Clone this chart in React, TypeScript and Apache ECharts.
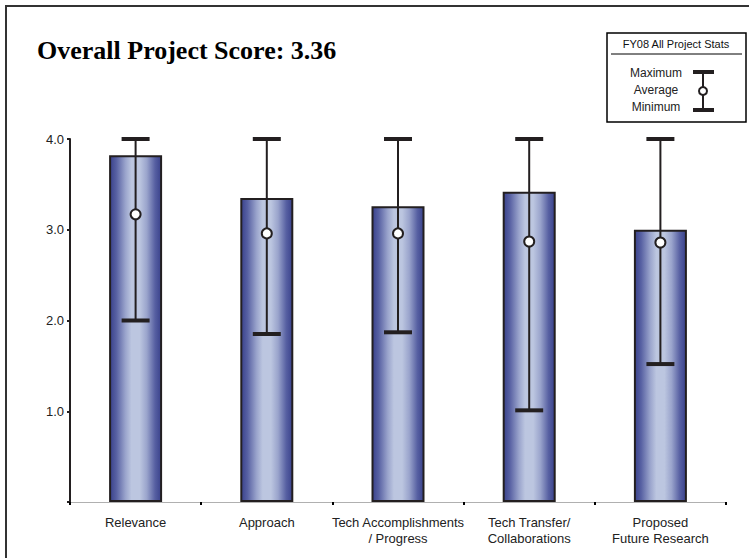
import React, { useEffect, useRef } from "react";
import * as echarts from "echarts";

const categories = [
  "Relevance",
  "Approach",
  "Tech Accomplishments\n/ Progress",
  "Tech Transfer/\nCollaborations",
  "Proposed\nFuture Research",
];
const scores = [3.82, 3.35, 3.26, 3.42, 3.0];
const averages = [3.17, 2.96, 2.96, 2.87, 2.86];
const maximums = [4.0, 4.0, 4.0, 4.0, 4.0];
const minimums = [2.0, 1.85, 1.87, 1.01, 1.52];
const yTicks = [0, 1, 2, 3, 4];

const INK = "#231f20";

export default function App() {
  const ref = useRef<HTMLDivElement>(null);
  useEffect(() => {
    if (!ref.current) return;
    const chart = echarts.init(ref.current, undefined, { renderer: "svg" });
    const barGradient = new echarts.graphic.LinearGradient(0, 0, 1, 0, [
      { offset: 0, color: "#3a428c" },
      { offset: 0.12, color: "#5760a2" },
      { offset: 0.3, color: "#9aa4cc" },
      { offset: 0.42, color: "#bcc6e0" },
      { offset: 0.58, color: "#bcc6e0" },
      { offset: 0.72, color: "#9aa4cc" },
      { offset: 0.88, color: "#5760a2" },
      { offset: 1, color: "#3a428c" },
    ]);
    const errData = categories.map((_, i) => [i, minimums[i], maximums[i]]);
    chart.setOption({
      animation: false,
      backgroundColor: "#ffffff",
      grid: { left: 70, right: 23, top: 139, bottom: 56, containLabel: false },
      xAxis: {
        type: "category",
        data: categories,
        boundaryGap: true,
        axisLine: { show: true, lineStyle: { color: "#b0b0b0", width: 1 } },
        axisTick: { show: true, length: 3, inside: false, lineStyle: { color: "#000", width: 2 } },
        axisLabel: {
          color: "#222",
          fontFamily: "Liberation Sans",
          fontSize: 13,
          lineHeight: 16,
          margin: 12,
          interval: 0,
        },
        splitLine: { show: false },
      },
      yAxis: {
        type: "value",
        min: yTicks[0],
        max: yTicks[yTicks.length - 1],
        interval: 1,
        axisLine: { show: true, lineStyle: { color: INK, width: 2 } },
        axisTick: { show: true, length: 3, lineStyle: { color: INK, width: 2 } },
        axisLabel: {
          color: "#222",
          fontFamily: "Liberation Sans",
          fontSize: 13,
          margin: 6,
          formatter: (v: number) => (v === 0 ? "" : v.toFixed(1)),
        },
        splitLine: { show: false },
      },
      series: [
        {
          type: "bar",
          data: scores,
          barWidth: 53,
          itemStyle: { color: barGradient, borderColor: INK, borderWidth: 2 },
          z: 2,
        },
        {
          type: "custom",
          data: errData,
          z: 3,
          renderItem: (params: any, api: any) => {
            const i = api.value(0);
            const top = api.coord([i, api.value(2)]);
            const bot = api.coord([i, api.value(1)]);
            const x = top[0];
            const capW = 28;
            const capH = 4;
            return {
              type: "group",
              children: [
                {
                  type: "line",
                  shape: { x1: x, y1: top[1], x2: x, y2: bot[1] },
                  style: { stroke: INK, lineWidth: 2 },
                },
                {
                  type: "rect",
                  shape: { x: x - capW / 2, y: top[1] - capH / 2, width: capW, height: capH },
                  style: { fill: INK },
                },
                {
                  type: "rect",
                  shape: { x: x - capW / 2, y: bot[1] - capH / 2, width: capW, height: capH },
                  style: { fill: INK },
                },
              ],
            };
          },
        },
        {
          type: "scatter",
          data: averages,
          symbol: "circle",
          symbolSize: 10,
          itemStyle: { color: "#ffffff", borderColor: INK, borderWidth: 2, opacity: 1 },
          z: 4,
        },
      ],
      graphic: [
        {
          type: "rect",
          shape: { x: 6, y: 6, width: 800, height: 600 },
          style: { fill: "none", stroke: "#333", lineWidth: 2 },
          silent: true,
        },
        {
          type: "text",
          x: 37,
          y: 50,
          style: {
            text: "Overall Project Score: 3.36",
            font: "bold 26px 'Liberation Serif'",
            fill: "#000",
            verticalAlign: "middle",
          },
        },
        {
          type: "rect",
          shape: { x: 607, y: 33, width: 139, height: 89 },
          style: { fill: "#fff", stroke: "#000", lineWidth: 1.5 },
        },
        {
          type: "line",
          shape: { x1: 611, y1: 54, x2: 742, y2: 54 },
          style: { stroke: "#000", lineWidth: 1 },
        },
        {
          type: "text",
          x: 676,
          y: 44,
          style: {
            text: "FY08 All Project Stats",
            font: "11px 'Liberation Sans'",
            fill: "#111",
            align: "center",
            verticalAlign: "middle",
          },
        },
        {
          type: "text",
          x: 656,
          y: 73,
          style: { text: "Maximum", font: "12px 'Liberation Sans'", fill: "#222", align: "center", verticalAlign: "middle" },
        },
        {
          type: "text",
          x: 656,
          y: 90,
          style: { text: "Average", font: "12px 'Liberation Sans'", fill: "#222", align: "center", verticalAlign: "middle" },
        },
        {
          type: "text",
          x: 656,
          y: 107,
          style: { text: "Minimum", font: "12px 'Liberation Sans'", fill: "#222", align: "center", verticalAlign: "middle" },
        },
        {
          type: "line",
          shape: { x1: 703, y1: 72, x2: 703, y2: 110 },
          style: { stroke: INK, lineWidth: 2 },
        },
        {
          type: "rect",
          shape: { x: 693, y: 70, width: 21, height: 4 },
          style: { fill: INK },
        },
        {
          type: "rect",
          shape: { x: 693, y: 108, width: 21, height: 4 },
          style: { fill: INK },
        },
        {
          type: "circle",
          shape: { cx: 703, cy: 91, r: 4 },
          style: { fill: "#fff", stroke: INK, lineWidth: 2 },
        },
      ],
    });
    return () => chart.dispose();
  }, []);
  return (
    <div
      ref={ref}
      style={{ position: "fixed", left: 0, top: 0, width: 749, height: 558 }}
    />
  );
}
